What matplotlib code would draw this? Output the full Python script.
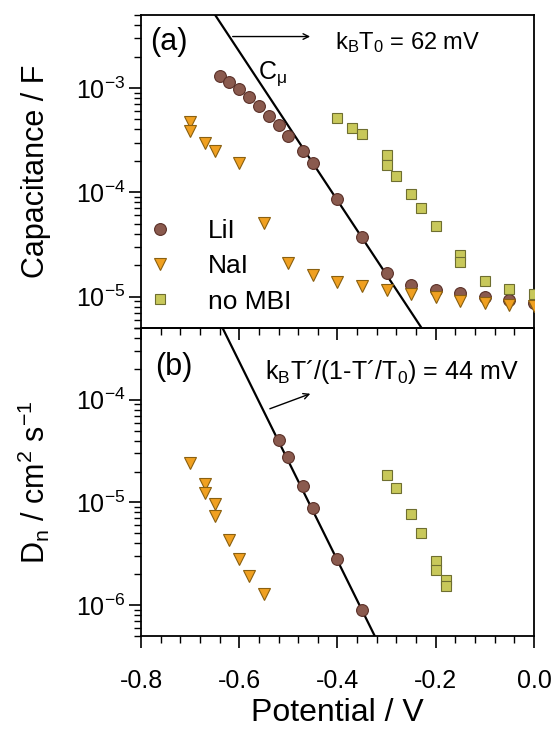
import matplotlib
matplotlib.use("Agg")
import matplotlib.pyplot as plt

plt.rcParams['font.family'] = ['Liberation Sans', 'DejaVu Sans']
plt.rcParams['mathtext.default'] = 'regular'
plt.rcParams['axes.unicode_minus'] = False

# (a) capacitance vs potential
lii_v_a = [-0.64, -0.62, -0.60, -0.58, -0.56, -0.54, -0.52, -0.50, -0.47, -0.45,
           -0.40, -0.35, -0.30, -0.25, -0.20, -0.15, -0.10, -0.05, 0.0]
lii_c_a = [1.31e-3, 1.13e-3, 9.8e-4, 8.2e-4, 6.7e-4, 5.4e-4, 4.4e-4, 3.5e-4, 2.5e-4, 1.9e-4,
           8.6e-5, 3.7e-5, 1.67e-5, 1.29e-5, 1.16e-5, 1.08e-5, 1.0e-5, 9.3e-6, 8.7e-6]
nai_v_a = [-0.70, -0.70, -0.67, -0.65, -0.60, -0.55, -0.50, -0.45, -0.40, -0.35,
           -0.30, -0.25, -0.20, -0.15, -0.10, -0.05, 0.0]
nai_c_a = [4.7e-4, 3.9e-4, 3.0e-4, 2.5e-4, 1.9e-4, 5.1e-5, 2.1e-5, 1.61e-5, 1.37e-5, 1.27e-5,
           1.16e-5, 1.06e-5, 1.0e-5, 9.1e-6, 8.7e-6, 8.3e-6, 8.2e-6]
nomb_v_a = [-0.40, -0.37, -0.35, -0.30, -0.30, -0.28, -0.25, -0.23, -0.20, -0.15,
            -0.15, -0.10, -0.05, 0.0]
nomb_c_a = [5.1e-4, 4.1e-4, 3.6e-4, 2.27e-4, 1.82e-4, 1.42e-4, 9.6e-5, 7.1e-5, 4.8e-5, 2.5e-5,
            2.16e-5, 1.42e-5, 1.19e-5, 1.06e-5]
cmu_v = [-0.649, -0.230]
cmu_c = [5.0e-3, 5.1e-6]

# (b) diffusion coefficient vs potential
lii_v_b = [-0.52, -0.50, -0.47, -0.45, -0.40, -0.35]
lii_d_b = [4.1e-5, 2.76e-5, 1.44e-5, 8.9e-6, 2.8e-6, 8.9e-7]
nai_v_b = [-0.70, -0.67, -0.67, -0.65, -0.65, -0.62, -0.60, -0.58, -0.55]
nai_d_b = [2.4e-5, 1.5e-5, 1.24e-5, 9.6e-6, 7.4e-6, 4.3e-6, 2.8e-6, 1.9e-6, 1.27e-6]
nomb_v_b = [-0.30, -0.28, -0.25, -0.23, -0.20, -0.20, -0.18, -0.18]
nomb_d_b = [1.87e-5, 1.39e-5, 7.7e-6, 5.0e-6, 2.72e-6, 2.18e-6, 1.77e-6, 1.52e-6]
dn_v = [-0.633, -0.325]
dn_d = [4.9e-4, 5.1e-7]

lii_style = dict(marker='o', ms=8.5, mfc='#8a5a4e', mec='#5a3028', mew=0.8, ls='none')
nai_style = dict(marker='v', ms=8.5, mfc='#f0a020', mec='#8a6010', mew=0.8, ls='none')
nomb_style = dict(marker='s', ms=7.5, mfc='#c8c85a', mec='#6e6e30', mew=0.8, ls='none')

fig = plt.figure(figsize=(5.56, 7.33), dpi=100)
ax1 = fig.add_axes([0.2536, 0.5525, 0.7068, 0.4270])
ax2 = fig.add_axes([0.2536, 0.1323, 0.7068, 0.4202])
ax1.set_zorder(2)
ax1.patch.set_visible(False)

for ax in (ax1, ax2):
    ax.set_yscale('log')
    ax.set_xlim(-0.8, 0.0)
    ax.set_xticks([-0.8, -0.6, -0.4, -0.2, 0.0])
    ax.set_xticks([-0.8 + 0.04 * i for i in range(21)], minor=True)
    ax.tick_params(which='major', direction='out', length=8.5, width=1.2, labelsize=18)
    ax.tick_params(which='minor', direction='out', length=5, width=1.0)
    ax.tick_params(axis='x', which='major', pad=15)
    ax.tick_params(axis='y', which='major', pad=3)
    for s in ax.spines.values():
        s.set_linewidth(1.3)

# top panel
ax1.plot(cmu_v, cmu_c, color='black', lw=1.6, zorder=1)
ax1.plot(lii_v_a, lii_c_a, label='LiI', zorder=3, **lii_style)
ax1.plot(nai_v_a, nai_c_a, label='NaI', zorder=3, **nai_style)
ax1.plot(nomb_v_a, nomb_c_a, label='no MBI', zorder=3, **nomb_style)
ax1.set_ylim(5e-6, 5e-3)
ax1.tick_params(axis='x', labelbottom=False)
ax1.set_ylabel('Capacitance / F', fontsize=22, labelpad=18)
ax1.text(0.023, 0.914, '(a)', transform=ax1.transAxes, fontsize=22, va='center')
ax1.text(-0.562, 1.37e-3, r'C$_{\mu}$', fontsize=18, va='center')
ax1.annotate('', xy=(-0.450, 3.11e-3), xytext=(-0.619, 3.11e-3),
             arrowprops=dict(arrowstyle='->', color='black', lw=1.0))
ax1.text(-0.405, 2.75e-3, r'k$_B$T$_0$ = 62 mV', fontsize=17, va='center')
ax1.legend(loc='upper left', bbox_to_anchor=(0.015, 0.347), frameon=False, fontsize=19,
           numpoints=1, handlelength=1.0, handletextpad=1.3, labelspacing=0.42,
           borderaxespad=0, borderpad=0)

# bottom panel
ax2.plot(dn_v, dn_d, color='black', lw=1.6, zorder=1)
ax2.plot(lii_v_b, lii_d_b, zorder=3, **lii_style)
ax2.plot(nai_v_b, nai_d_b, zorder=3, **nai_style)
ax2.plot(nomb_v_b, nomb_d_b, zorder=3, **nomb_style)
ax2.set_ylim(5e-7, 5e-4)
ax2.set_ylabel(r'D$_n$ / cm$^2$ s$^{-1}$', fontsize=22, labelpad=17)
ax2.set_xlabel('Potential / V', fontsize=23, labelpad=4)
ax2.text(0.036, 0.873, '(b)', transform=ax2.transAxes, fontsize=22, va='center')
ax2.annotate('', xy=(-0.450, 1.17e-4), xytext=(-0.543, 8.0e-5),
             arrowprops=dict(arrowstyle='->', color='black', lw=1.0))
ax2.text(0.316, 0.857, 'k$_B$T´/(1-T´/T$_0$) = 44 mV', transform=ax2.transAxes,
         fontsize=18, va='center')

fig.savefig('out.png', dpi=100)
